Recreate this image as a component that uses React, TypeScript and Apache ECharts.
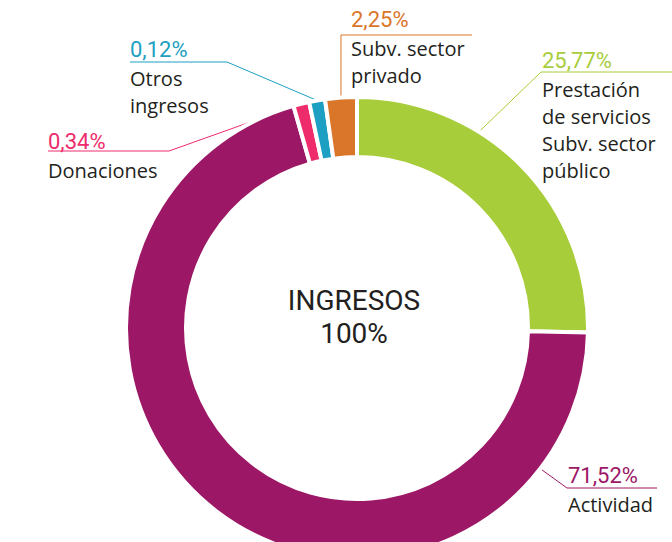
import React, { useEffect, useRef } from 'react';
import * as echarts from 'echarts';

// ---- data ----
const categories: string[][] = [
  ['Prestación', 'de servicios', 'Subv. sector', 'público'],
  ['Actividad'],
  ['Donaciones'],
  ['Otros', 'ingresos'],
  ['Subv. sector', 'privado'],
];
const values: number[] = [25.77, 71.52, 0.34, 0.12, 2.25];
const centerTitle = 'INGRESOS';
const centerTotal = '100%';

// ---- styles / layout ----
const colors = ['#a8cd3b', '#9c1765', '#ee2c6c', '#1c9fc2', '#da7629'];
const CX = 357;
const CY = 328;
const R0 = 171;
const R1 = 231;
const PCT_FONT = 'Roboto, "DejaVu Sans Condensed", sans-serif';
const NAME_FONT = '"Open Sans", "Noto Sans", sans-serif';

type LL = { x: number; y: number; anchorDeg: number | null; elbow: number[] | null; end: number[]; lineY?: number };
const LABEL_LAYOUT: LL[] = [
  { x: 542, y: 44.5, anchorDeg: 32, elbow: [541, 72], end: [672, 72] },
  { x: 568, y: 459.5, anchorDeg: 127.5, elbow: [567, 488], end: [657, 488] },
  { x: 48, y: 125.5, anchorDeg: null, elbow: [169, 151], end: [48, 151] },
  { x: 130, y: 33.5, anchorDeg: null, elbow: [227, 62], end: [130, 62] },
  { x: 351, y: 3.5, anchorDeg: null, elbow: null, end: [472, 35], lineY: 35 },
];

const fmtPct = (v: number) => v.toFixed(2).replace('.', ',') + '%';

export default function App() {
  const ref = useRef<HTMLDivElement>(null);
  useEffect(() => {
    if (!ref.current) return;
    const chart = echarts.init(ref.current, undefined, { renderer: 'svg' });
    const rich: any = {
      n: { fontFamily: NAME_FONT, fontSize: 20, lineHeight: 27, color: '#231f20' },
    };
    colors.forEach((c, i) => {
      rich['p' + i] = { fontFamily: PCT_FONT, fontSize: 22, lineHeight: 31, color: c };
    });
    const centerStyle = {
      fontFamily: PCT_FONT,
      fontSize: 28,
      fill: '#231f20',
      align: 'center',
      verticalAlign: 'middle',
    };
    chart.setOption({
      animation: false,
      graphic: [
        { type: 'text', x: 354, y: 300, style: { ...centerStyle, text: centerTitle } },
        { type: 'text', x: 354, y: 333.5, style: { ...centerStyle, text: centerTotal } },
      ],
      series: [
        {
          type: 'pie',
          center: [CX, CY],
          radius: [R0, R1],
          startAngle: 90,
          clockwise: true,
          minAngle: 4,
          avoidLabelOverlap: false,
          emphasis: { disabled: true },
          itemStyle: { borderColor: '#ffffff', borderWidth: 4 },
          data: values.map((v, i) => ({
            value: v,
            name: categories[i].join(' '),
            itemStyle: { color: colors[i] },
          })),
          label: {
            show: true,
            position: 'outside',
            formatter: (p: any) =>
              `{p${p.dataIndex}|${fmtPct(values[p.dataIndex])}}\n` +
              categories[p.dataIndex].map((l) => `{n|${l}}`).join('\n'),
            rich,
          },
          labelLine: { show: true, length: 10, length2: 10, smooth: false, lineStyle: { width: 1 } },
          labelLayout: (params: any) => {
            const L = LABEL_LAYOUT[params.dataIndex];
            let anchor: number[];
            if (L.anchorDeg != null) {
              const a = (L.anchorDeg * Math.PI) / 180;
              anchor = [CX + (R1 + 2) * Math.sin(a), CY - (R1 + 2) * Math.cos(a)];
            } else {
              const p0 = params.labelLinePoints && params.labelLinePoints[0];
              anchor = p0 ? [p0[0], p0[1]] : [CX, CY - R1];
            }
            const elbow = L.elbow ? L.elbow : [anchor[0], L.lineY as number];
            const end = L.elbow ? L.end : [L.end[0], L.lineY as number];
            return {
              x: L.x,
              y: L.y,
              align: 'left',
              verticalAlign: 'top',
              labelLinePoints: [anchor, elbow, end],
            };
          },
        },
      ],
    });
    return () => chart.dispose();
  }, []);
  return <div ref={ref} style={{ position: 'absolute', left: 0, top: 0, width: 672, height: 542 }} />;
}
